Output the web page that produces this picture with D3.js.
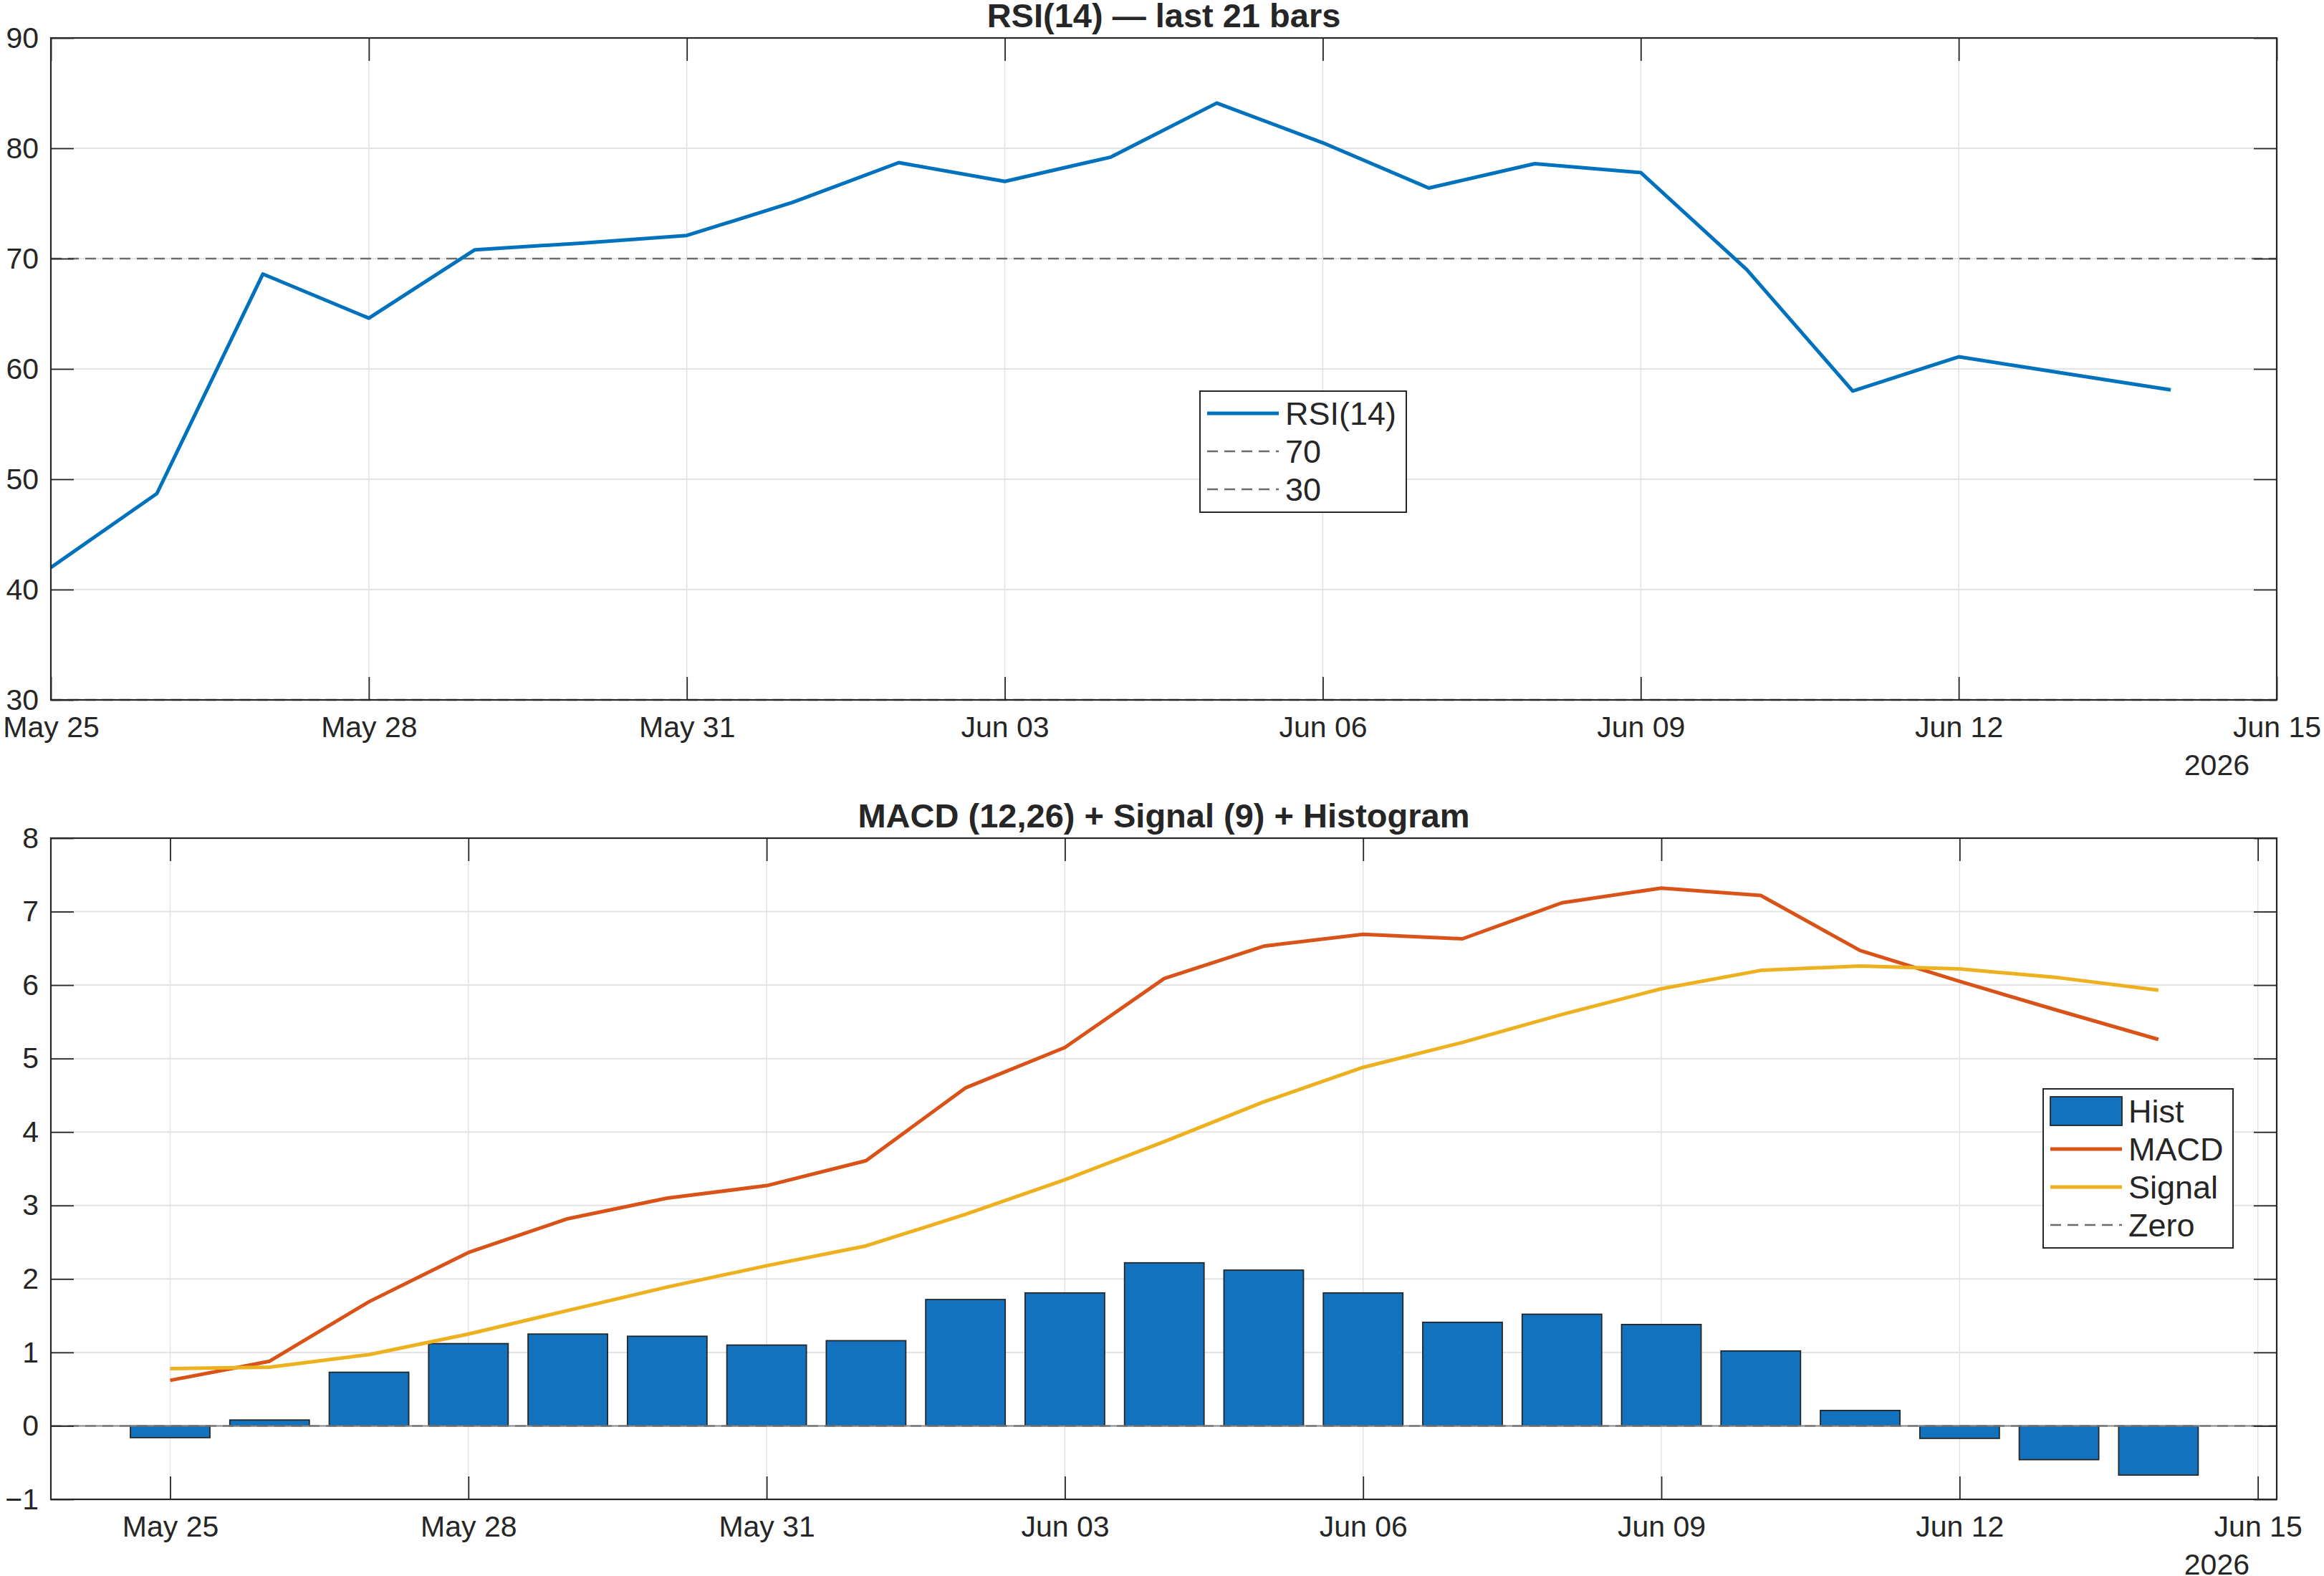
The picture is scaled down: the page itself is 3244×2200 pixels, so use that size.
<!DOCTYPE html>
<html>
<head>
<meta charset="utf-8">
<script src="https://cdn.jsdelivr.net/npm/d3@7"></script>
<style>
  body { margin: 0; background: #fff; }
  text { font-family: "Liberation Sans", Arial, sans-serif; fill: #262626; }
</style>
</head>
<body>
<script>
const width = 3244;
const height = 2200;

// data, one value per daily bar starting at firstDay
const firstDay = "2026-05-25";
const rsiValues = [
  42.0, 48.7, 68.6, 64.6, 70.8, 71.4, 72.1, 75.1, 78.7, 77.0, 79.2,
  84.1, 80.5, 76.4, 78.6, 77.8, 69.0, 58.0, 61.1, 59.6, 58.1,
];
const macdValues = [
  0.62, 0.88, 1.69, 2.36, 2.82, 3.10, 3.27, 3.61, 4.60, 5.15, 6.09,
  6.53, 6.69, 6.63, 7.12, 7.32, 7.22, 6.47, 6.05, 5.65, 5.26,
];
const signalValues = [
  0.78, 0.80, 0.97, 1.25, 1.57, 1.89, 2.18, 2.45, 2.88, 3.35, 3.87,
  4.41, 4.88, 5.22, 5.60, 5.95, 6.20, 6.26, 6.22, 6.10, 5.93,
];
const histValues = [
  -0.16, 0.08, 0.73, 1.12, 1.25, 1.22, 1.10, 1.16, 1.72, 1.81, 2.22,
  2.12, 1.81, 1.41, 1.52, 1.38, 1.02, 0.21, -0.17, -0.46, -0.67,
];
const rsiLevels = [70, 30];
const rsiTicks = [30, 40, 50, 60, 70, 80, 90];
const macdTicks = [-1, 0, 1, 2, 3, 4, 5, 6, 7, 8];
const dateTicks = [
  "2026-05-25", "2026-05-28", "2026-05-31", "2026-06-03",
  "2026-06-06", "2026-06-09", "2026-06-12", "2026-06-15",
];
const yearLabel = "2026";
const rsiTitle = "RSI(14) \u2014 last 21 bars";
const macdTitle = "MACD (12,26) + Signal (9) + Histogram";
const rsiLegend = ["RSI(14)", "70", "30"];
const macdLegend = ["Hist", "MACD", "Signal", "Zero"];

const blue = "#0072BD";
const orange = "#D95319";
const yellow = "#EDB120";
const axisColor = "#262626";
const gridColor = "#e3e3e3";
const dashColor = "#6b6b6b";
const tickFont = 41;
const lineW = 5;

const parseDate = d3.utcParse("%Y-%m-%d");
const fmtTick = d3.utcFormat("%b %d");
const day0 = parseDate(firstDay);
const days = rsiValues.map((_, i) => d3.utcDay.offset(day0, i));
const tickDates = dateTicks.map(parseDate);
const dayMs = 864e5;

const svg = d3
  .select("body")
  .append("svg")
  .attr("width", width)
  .attr("height", height)
  .attr("viewBox", [0, 0, width, height]);

// ---------- RSI panel ----------
const xTop = d3
  .scaleUtc()
  .domain([tickDates[0], tickDates[tickDates.length - 1]])
  .range([71, 3178]);
const yTop = d3.scaleLinear().domain([30, 90]).range([977, 53]);

drawGrid(xTop, yTop, rsiTicks);

svg
  .append("g")
  .selectAll("line")
  .data(rsiLevels)
  .join("line")
  .attr("x1", xTop.range()[0])
  .attr("x2", xTop.range()[1])
  .attr("y1", (d) => yTop(d))
  .attr("y2", (d) => yTop(d))
  .attr("stroke", dashColor)
  .attr("stroke-width", 2.5)
  .attr("stroke-dasharray", "15,9");

svg
  .append("path")
  .datum(rsiValues)
  .attr("fill", "none")
  .attr("stroke", blue)
  .attr("stroke-width", lineW)
  .attr("stroke-linejoin", "round")
  .attr("d", d3.line().x((d, i) => xTop(days[i])).y((d) => yTop(d)));

drawAxes(xTop, yTop, rsiTicks, rsiTitle);

drawLegend({ x: 1675, y: 546, w: 288, h: 169 }, [
  { label: rsiLegend[0], kind: "line", color: blue },
  { label: rsiLegend[1], kind: "dash", color: dashColor },
  { label: rsiLegend[2], kind: "dash", color: dashColor },
]);

// ---------- MACD panel ----------
const xBot = d3
  .scaleUtc()
  .domain([
    new Date(tickDates[0].getTime() - 1.2 * dayMs),
    new Date(tickDates[tickDates.length - 1].getTime() + 0.19 * dayMs),
  ])
  .range([71, 3178]);
const yBot = d3.scaleLinear().domain([-1, 8]).range([2093, 1170]);
const barW = xBot(new Date(day0.getTime() + 0.8 * dayMs)) - xBot(day0);

drawGrid(xBot, yBot, macdTicks);

svg
  .append("g")
  .selectAll("rect")
  .data(histValues)
  .join("rect")
  .attr("x", (d, i) => xBot(days[i]) - barW / 2)
  .attr("width", barW)
  .attr("y", (d) => yBot(Math.max(d, 0)))
  .attr("height", (d) => Math.abs(yBot(d) - yBot(0)))
  .attr("fill", "#1372BE")
  .attr("stroke", axisColor)
  .attr("stroke-width", 1.8);

// bar baseline + dashed zero line
svg
  .append("line")
  .attr("x1", xBot.range()[0])
  .attr("x2", xBot.range()[1])
  .attr("y1", yBot(0))
  .attr("y2", yBot(0))
  .attr("stroke", "#8a8a8a")
  .attr("stroke-width", 2);
svg
  .append("line")
  .attr("x1", xBot.range()[0])
  .attr("x2", xBot.range()[1])
  .attr("y1", yBot(0))
  .attr("y2", yBot(0))
  .attr("stroke", dashColor)
  .attr("stroke-width", 2)
  .attr("stroke-dasharray", "15,9");

const macdLine = d3.line().x((d, i) => xBot(days[i])).y((d) => yBot(d));
[
  [macdValues, orange],
  [signalValues, yellow],
].forEach(([vals, color]) => {
  svg
    .append("path")
    .datum(vals)
    .attr("fill", "none")
    .attr("stroke", color)
    .attr("stroke-width", lineW)
    .attr("stroke-linejoin", "round")
    .attr("d", macdLine);
});

drawAxes(xBot, yBot, macdTicks, macdTitle);

drawLegend({ x: 2852, y: 1520, w: 265, h: 222 }, [
  { label: macdLegend[0], kind: "patch", color: "#1372BE" },
  { label: macdLegend[1], kind: "line", color: orange },
  { label: macdLegend[2], kind: "line", color: yellow },
  { label: macdLegend[3], kind: "dash", color: dashColor },
]);

// ---------- helpers ----------
function drawGrid(x, y, yTicks) {
  const [x0, x1] = x.range();
  const [y1, y0] = y.range();
  const g = svg.append("g");
  g.selectAll(".gx")
    .data(tickDates)
    .join("line")
    .attr("x1", (d) => x(d))
    .attr("x2", (d) => x(d))
    .attr("y1", y0)
    .attr("y2", y1)
    .attr("stroke", gridColor)
    .attr("stroke-width", 1.5);
  g.selectAll(".gy")
    .data(yTicks)
    .join("line")
    .attr("x1", x0)
    .attr("x2", x1)
    .attr("y1", (d) => y(d))
    .attr("y2", (d) => y(d))
    .attr("stroke", gridColor)
    .attr("stroke-width", 2);
}

function drawAxes(x, y, yTicks, title) {
  const [x0, x1] = x.range();
  const [y1, y0] = y.range();
  const style = (g) => {
    g.select(".domain").remove();
    g.attr("color", axisColor);
    g.selectAll(".tick line").attr("stroke-width", 1.8);
    g.selectAll("text")
      .attr("font-size", tickFont)
      .attr("font-family", "Liberation Sans, Arial, sans-serif")
      .attr("fill", axisColor);
  };

  svg
    .append("g")
    .attr("transform", `translate(0,${y1})`)
    .call(
      d3.axisBottom(x).tickValues(tickDates).tickFormat(fmtTick)
        .tickSizeInner(-32).tickSizeOuter(0).tickPadding(23)
    )
    .call(style);
  svg
    .append("g")
    .attr("transform", `translate(0,${y0})`)
    .call(d3.axisTop(x).tickValues(tickDates).tickFormat("").tickSizeInner(-32).tickSizeOuter(0))
    .call(style);
  svg
    .append("g")
    .attr("transform", `translate(${x0},0)`)
    .call(d3.axisLeft(y).tickValues(yTicks).tickSizeInner(-32).tickSizeOuter(0).tickPadding(17))
    .call(style);
  svg
    .append("g")
    .attr("transform", `translate(${x1},0)`)
    .call(d3.axisRight(y).tickValues(yTicks).tickFormat("").tickSizeInner(-32).tickSizeOuter(0))
    .call(style);

  svg
    .append("rect")
    .attr("x", x0)
    .attr("y", y0)
    .attr("width", x1 - x0)
    .attr("height", y1 - y0)
    .attr("fill", "none")
    .attr("stroke", axisColor)
    .attr("stroke-width", 2.2);

  svg
    .append("text")
    .attr("x", 3140)
    .attr("y", y1 + 105)
    .attr("text-anchor", "end")
    .attr("font-size", tickFont)
    .text(yearLabel);

  svg
    .append("text")
    .attr("x", (x0 + x1) / 2)
    .attr("y", y0 - 15)
    .attr("text-anchor", "middle")
    .attr("font-size", 47)
    .attr("font-weight", "bold")
    .text(title);
}

function drawLegend(box, items) {
  const g = svg.append("g");
  g.append("rect")
    .attr("x", box.x)
    .attr("y", box.y)
    .attr("width", box.w)
    .attr("height", box.h)
    .attr("fill", "#fff")
    .attr("stroke", axisColor)
    .attr("stroke-width", 2);
  const rowH = 53;
  const firstRow = box.y + 31;
  const sx0 = box.x + 10;
  const sx1 = box.x + 110;
  items.forEach((item, i) => {
    const cy = firstRow + i * rowH;
    if (item.kind === "patch") {
      g.append("rect")
        .attr("x", sx0)
        .attr("y", cy - 20)
        .attr("width", sx1 - sx0)
        .attr("height", 40)
        .attr("fill", item.color)
        .attr("stroke", axisColor)
        .attr("stroke-width", 1.8);
    } else {
      g.append("line")
        .attr("x1", sx0)
        .attr("x2", sx1)
        .attr("y1", cy)
        .attr("y2", cy)
        .attr("stroke", item.color)
        .attr("stroke-width", item.kind === "dash" ? 2.5 : lineW)
        .attr("stroke-dasharray", item.kind === "dash" ? "15,9" : null);
    }
    g.append("text")
      .attr("x", sx1 + 9)
      .attr("y", cy + 16)
      .attr("font-size", 45)
      .text(item.label);
  });
}
</script>
</body>
</html>
